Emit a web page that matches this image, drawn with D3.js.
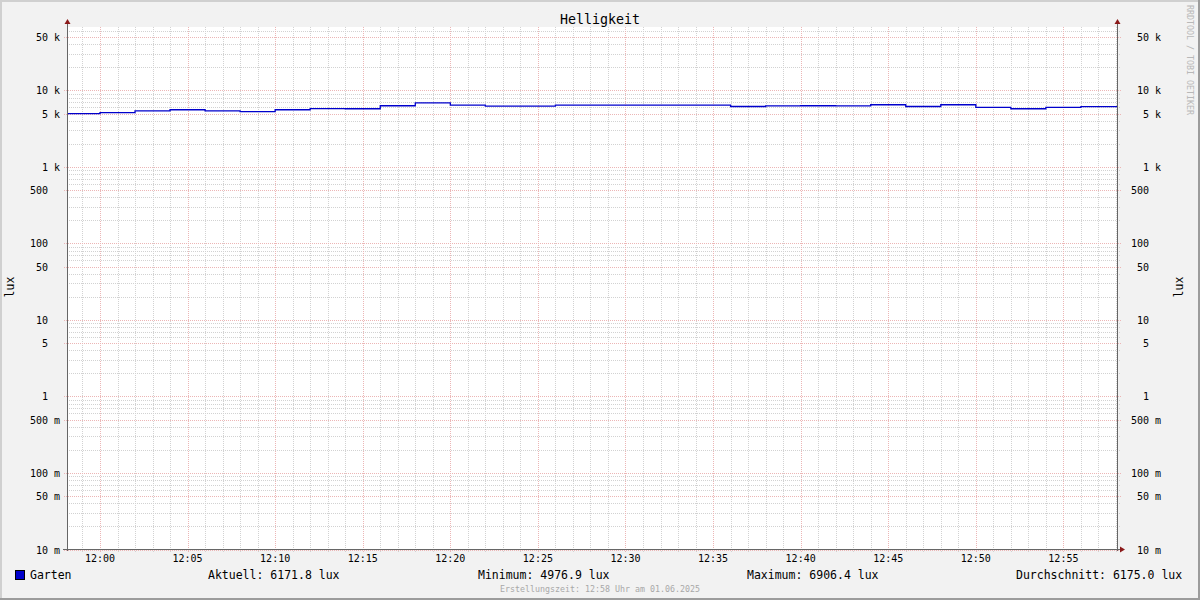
<!DOCTYPE html>
<html>
<head>
<meta charset="utf-8">
<script src="https://cdn.jsdelivr.net/npm/d3@7"></script>
<style>
  html, body { margin: 0; padding: 0; background: #fff; }
  svg text { font-family: "DejaVu Sans Mono", monospace; }
</style>
</head>
<body>
<svg id="chart" width="1200" height="600"></svg>
<script>
// ---- data ----
const stepTimes = ["11:58","12:00","12:02","12:04","12:06","12:08","12:10","12:12","12:14","12:16",
                   "12:18","12:20","12:22","12:24","12:26","12:28","12:30","12:32","12:34","12:36",
                   "12:38","12:40","12:42","12:44","12:46","12:48","12:50","12:52","12:54","12:56"];
const gartenValues = [4976.9, 5130, 5400, 5600, 5430, 5280, 5600, 5780, 5770, 6320,
                      6906.4, 6430, 6240, 6240, 6430, 6420, 6430, 6425, 6430, 6180,
                      6310, 6320, 6310, 6510, 6180, 6510, 6000, 5770, 6000, 6171.8];
const yTickValues = [0.01, 0.05, 0.1, 0.5, 1, 5, 10, 50, 100, 500, 1000, 5000, 10000, 50000];
const yTickLabels = ["10 m","50 m","100 m","500 m","1\u00a0\u00a0","5\u00a0\u00a0","10\u00a0\u00a0","50\u00a0\u00a0",
                     "100\u00a0\u00a0","500\u00a0\u00a0","1 k","5 k","10 k","50 k"];
const xTickLabels = ["12:00","12:05","12:10","12:15","12:20","12:25","12:30","12:35","12:40","12:45","12:50","12:55"];
const title = "Helligkeit";
const unitLabel = "lux";
const seriesName = "Garten";
const legendStats = ["Aktuell: 6171.8 lux", "Minimum: 4976.9 lux", "Maximum: 6906.4 lux", "Durchschnitt: 6175.0 lux"];
const footer = "Erstellungszeit: 12:58 Uhr am 01.06.2025";
const watermark = "RRDTOOL / TOBI OETIKER";

// ---- layout ----
const svg = d3.select("#chart");
const W = 1200, H = 600;
const L = 67, R = 1118, T = 27, B = 549.5;
const day = (hm, s = 0) => { const [h, m] = hm.split(":").map(Number); return new Date(2025, 5, 1, h, m, s); };
const tStart = day("11:58", 7), tEnd = day("12:58", 7);

const x = d3.scaleTime().domain([tStart, tEnd]).range([L, R]);
const y = d3.scaleLog().domain([0.01, 67600]).range([B, T]);

// background + frame
svg.append("rect").attr("width", W).attr("height", H).attr("fill", "#f2f2f2");
svg.append("path").attr("d", `M1,${H} V1 H${W}`).attr("fill", "none").attr("stroke", "#d0d0d0").attr("stroke-width", 2);
svg.append("path").attr("d", `M0,${H-1} H${W-1} V0`).attr("fill", "none").attr("stroke", "#9c9c9c").attr("stroke-width", 2);
svg.append("rect").attr("x", L).attr("y", T).attr("width", R - L).attr("height", B - T).attr("fill", "#fff");

const grid = svg.append("g").attr("shape-rendering", "crispEdges");
const minorCol = "#d2d2d2", majorCol = "#ecb6b6";

// horizontal grid
const majorSet = new Set(yTickValues.map(v => +v.toPrecision(6)));
y.ticks().filter(v => !majorSet.has(+v.toPrecision(6)) && y(v) >= T).forEach(v => {
  const yy = Math.round(y(v)) + 0.5;
  grid.append("line").attr("x1", L).attr("x2", R + 3).attr("y1", yy).attr("y2", yy)
    .attr("stroke", minorCol).attr("stroke-dasharray", "1,1");
});
// vertical minor grid (each minute)
d3.timeMinute.range(tStart, tEnd).forEach(t => {
  if (t.getMinutes() % 5 === 0) return;
  const xx = Math.round(x(t)) + 0.5;
  grid.append("line").attr("x1", xx).attr("x2", xx).attr("y1", T).attr("y2", B + 2)
    .attr("stroke", minorCol).attr("stroke-dasharray", "1,1");
});
// major grid
yTickValues.forEach(v => {
  const yy = Math.round(y(v)) + 0.5;
  grid.append("line").attr("x1", L - 3).attr("x2", R + 3).attr("y1", yy).attr("y2", yy)
    .attr("stroke", majorCol).attr("stroke-dasharray", "1,1");
});
const xTickTimes = xTickLabels.map(s => day(s));
xTickTimes.forEach(t => {
  const xx = Math.round(x(t)) + 0.5;
  grid.append("line").attr("x1", xx).attr("x2", xx).attr("y1", T).attr("y2", B + 3)
    .attr("stroke", majorCol).attr("stroke-dasharray", "1,1");
});

// data line
const clip = svg.append("clipPath").attr("id", "plotclip");
clip.append("rect").attr("x", L).attr("y", T).attr("width", R - L).attr("height", B - T);
const pts = stepTimes.map((s, i) => ({ t: day(s), v: gartenValues[i] }));
pts.push({ t: tEnd, v: gartenValues[gartenValues.length - 1] });
const line = d3.line().x(d => x(d.t)).y(d => y(d.v)).curve(d3.curveStepAfter);
svg.append("path").datum(pts).attr("d", line).attr("clip-path", "url(#plotclip)")
  .attr("fill", "none").attr("stroke", "#0000cc").attr("stroke-width", 1.3);

// axes
const axisCol = "#666", arrowCol = "#8b1a1a";
const ax = svg.append("g").attr("shape-rendering", "crispEdges");
ax.append("line").attr("x1", L + 0.5).attr("x2", L + 0.5).attr("y1", 22).attr("y2", B + 1).attr("stroke", axisCol);
ax.append("line").attr("x1", R - 0.5).attr("x2", R - 0.5).attr("y1", 22).attr("y2", B + 1).attr("stroke", axisCol);
ax.append("line").attr("x1", L - 4).attr("x2", R + 3).attr("y1", 549.5).attr("y2", 549.5).attr("stroke", axisCol);
svg.append("path").attr("d", `M${L+0.5},19 l-3,5 h6 z`).attr("fill", arrowCol);
svg.append("path").attr("d", `M${R-0.5},19 l-3,5 h6 z`).attr("fill", arrowCol);
svg.append("path").attr("d", `M${R+7},549.5 l-5,-3 v6 z`).attr("fill", arrowCol);

// y labels
yTickValues.forEach((v, i) => {
  const yy = Math.round(y(v)) + 4;
  svg.append("text").attr("x", 60).attr("y", yy).attr("text-anchor", "end")
    .attr("font-size", "10px").attr("fill", "#000").text(yTickLabels[i]);
  svg.append("text").attr("x", 1161).attr("y", yy).attr("text-anchor", "end")
    .attr("font-size", "10px").attr("fill", "#000").text(yTickLabels[i]);
});
// x labels
xTickTimes.forEach((t, i) => {
  svg.append("text").attr("x", x(t)).attr("y", 562).attr("text-anchor", "middle")
    .attr("font-size", "10px").attr("fill", "#000").text(xTickLabels[i]);
});

// title
svg.append("text").attr("x", 600).attr("y", 24).attr("text-anchor", "middle")
  .attr("font-size", "13.3px").attr("fill", "#000").text(title);

// unit labels
svg.append("text").attr("transform", "translate(14,287) rotate(-90)").attr("text-anchor", "middle")
  .attr("font-size", "11.5px").attr("fill", "#000").text(unitLabel);
svg.append("text").attr("transform", "translate(1183,287) rotate(-90)").attr("text-anchor", "middle")
  .attr("font-size", "11.5px").attr("fill", "#000").text(unitLabel);

// watermark
svg.append("text").attr("transform", "translate(1187,5) rotate(90)").attr("text-anchor", "start")
  .attr("font-size", "8.3px").attr("fill", "#b8b8b8").text(watermark);

// legend
svg.append("rect").attr("x", 15.5).attr("y", 570.5).attr("width", 9).attr("height", 9)
  .attr("fill", "#0000cc").attr("stroke", "#000").attr("stroke-width", 1);
svg.append("text").attr("x", 30).attr("y", 579).attr("font-size", "11.5px").attr("fill", "#000").text(seriesName);
const statX = [208, 478, 747, 1016];
legendStats.forEach((s, i) => {
  svg.append("text").attr("x", statX[i]).attr("y", 579).attr("font-size", "11.5px").attr("fill", "#000").text(s);
});

// footer
svg.append("text").attr("x", 600).attr("y", 592).attr("text-anchor", "middle")
  .attr("font-size", "8.3px").attr("fill", "#a8a8a8").text(footer);
</script>
</body>
</html>
